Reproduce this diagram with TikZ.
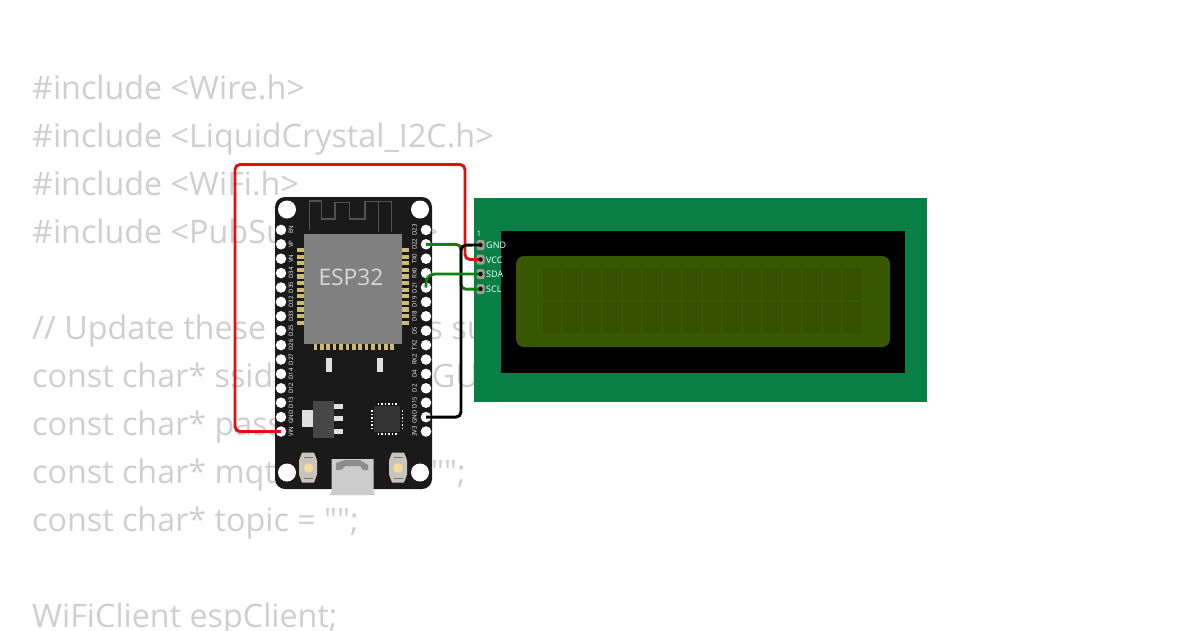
\documentclass[tikz,border=0pt]{standalone}
\usepackage{fontspec}
\setmainfont{Open Sans}
\newfontfamily\codefont{Open Sans}
\usetikzlibrary{positioning}
\definecolor{codegray}{HTML}{CFCFCF}
\definecolor{boardblack}{HTML}{1A1A1A}
\definecolor{lcdgreen}{HTML}{087F45}
\definecolor{panelgreen}{HTML}{395600}
\definecolor{cellgreen}{HTML}{355100}
\definecolor{padgold}{HTML}{CDBB72}
\definecolor{ledcream}{HTML}{F4DC9C}
\definecolor{buttongray}{HTML}{C9C5BC}
\definecolor{pingray}{HTML}{A09E8A}
\definecolor{wirered}{HTML}{E01010}
\definecolor{wiregreen}{HTML}{0F7F0F}
\tikzset{
  codeline/.style={anchor=base west,text=codegray,font=\codefont\fontsize{32.3}{32.3}\selectfont,inner sep=0pt},
  pinhole/.style={circle,fill=white,minimum size=10.5pt,inner sep=0pt},
  mounthole/.style={circle,fill=white,minimum size=18pt,inner sep=0pt},
  pinlabel/.style={text=white,font=\fontsize{6}{6}\selectfont,rotate=90,inner sep=0pt},
  lcdpin/.style={rectangle,rounded corners=1.5pt,fill=pingray,minimum width=8pt,minimum height=10pt,inner sep=0pt},
  lcdlabel/.style={anchor=west,text=white,font=\fontsize{9}{9}\selectfont,inner sep=0pt},
  wire/.style={line width=2.9pt,rounded corners=5pt},
}
\begin{document}
\begin{tikzpicture}[x=1pt,y=-1pt]
  \useasboundingbox (0,0) rectangle (1200,630);
  \fill[white] (0,0) rectangle (1200,630);
  % code behind the parts
  \node[codeline] (code1) at (32,99.7) {\#include <Wire.h>};
  \node[codeline] (code2) at (32,147.7) {\#include <LiquidCrystal\_I2C.h>};
  \node[codeline] (code3) at (32,195.7) {\#include <WiFi.h>};
  \node[codeline] (code4) at (32,243.7) {\#include <PubSubClient.h>};
  \node[codeline] (code5) at (32,339.7) {// Update these with values suitable for your network.};
  \node[codeline] (code6) at (32,387.7) {const char* ssid = "Wokwi-GUEST";};
  \node[codeline] (code7) at (32,435.7) {const char* password = "";};
  \node[codeline] (code8) at (32,483.7) {const char* mqtt\_server = "";};
  \node[codeline] (code9) at (32,531.7) {const char* topic = "";};
  \node[codeline] (code10) at (32,627.7) {WiFiClient espClient;};
  % lcd
  \fill[lcdgreen] (473.5,198) rectangle (926.5,402);
  \fill[black] (501,231) rectangle (905,373);
  \fill[panelgreen,rounded corners=8pt] (516,256) rectangle (890,347);
  \foreach \c in {0,...,15}
    \foreach \r in {0,1}
      \fill[cellgreen] (543+20*\c,268+33.5*\r) rectangle ++(17.5,31.5);
  \node[text=white,font=\fontsize{7.5}{7.5}\selectfont,inner sep=0pt] (one) at (479,234) {1};
  \foreach \n/\y/\t in {GND/245/GND,VCC/259.5/VCC,SDA/274/SDA,SCL/289/SCL} {
    \node[lcdpin] (\n) at (480.5,\y) {};
    \node[lcdlabel] (\n label) at (486,\y+.5) {\t};
  }
  % board
  \fill[boardblack,rounded corners=10pt] (275,197) rectangle (432,489);
  \draw[black!68,line width=1.2pt] (309.5,230) -- (309.5,201) -- (321.5,201) -- (321.5,219) -- (335,219) -- (335,202.5)
    -- (349.3,202.5) -- (349.3,219) -- (365,219) -- (365,201.5) -- (391.7,201.5) -- (391.7,232);
  \draw[black!68,line width=1.2pt] (378.3,201.5) -- (378.3,232);
  \node[mounthole] (hole1) at (287,209.5) {};
  \node[mounthole] (hole2) at (420,209.5) {};
  \node[mounthole] (hole3) at (287,472.5) {};
  \node[mounthole] (hole4) at (420,472.5) {};
  \foreach \i in {0,...,11} {
    \fill[padgold] (297,248+6.6*\i) rectangle ++(6.5,4.2);
    \fill[padgold] (402,248+6.6*\i) rectangle ++(6.5,4.2);
  }
  \foreach \i in {0,...,12}
    \fill[padgold] (313.5+6.4*\i,343) rectangle ++(3.6,7);
  \fill[gray] (303.5,233.5) rectangle (402,343.5);
  \node[text=black!15,font=\fontsize{22.8}{22.8}\selectfont,inner sep=0pt] (esp) at (351,277) {ESP32};
  \foreach \i/\t in {1/EN,2/VP,3/VN,4/D34,5/D35,6/D32,7/D33,8/D25,9/D26,10/D27,11/D14,12/D12,13/D13,14/GND,15/VIN} {
    \node[pinhole] (L\i) at (281,215.5+14.4*\i) {};
    \node[pinlabel] (LT\i) at (291,215.5+14.4*\i) {\t};
  }
  \foreach \i/\t in {1/D23,2/D22,3/TX0,4/RX0,5/D21,6/D19,7/D18,8/D5,9/TX2,10/RX2,11/D4,12/D2,13/D15,14/GND,15/3V3} {
    \node[pinhole] (R\i) at (426,215.5+14.4*\i) {};
    \node[pinlabel] (RT\i) at (414.5,215.5+14.4*\i) {\t};
  }
  % small parts
  \fill[black!12] (326,358) rectangle (332,372);
  \fill[black!12] (377,358) rectangle (383,372);
  \fill[black!12] (302,410) rectangle (313,427);
  \foreach \y in {404,416,429}
    \fill[black!12] (334,\y) rectangle ++(9,5);
  \fill[black!72] (313,401) rectangle (334,438);
  \fill[black!80] (374,406) rectangle (400,432);
  \foreach \i in {0,...,5} {
    \fill[white] (377.5+3.5*\i,403) rectangle ++(1.6,1.6);
    \fill[white] (377.5+3.5*\i,433) rectangle ++(1.6,1.6);
    \fill[white] (371,410+3.5*\i) rectangle ++(1.6,1.6);
    \fill[white] (401.5,410+3.5*\i) rectangle ++(1.6,1.6);
  }
  \foreach \x in {300,390} {
    \fill[buttongray] (\x+2,452.5) -- ++(12,0) -- ++(2,5) -- ++(1,3) -- ++(0,14) -- ++(-3,8) -- ++(-12,0) -- ++(-3,-8) -- ++(0,-14) -- cycle;
    \draw[black!55,line width=.7pt] (\x+4,457) -- ++(9,0) (\x+4,478) -- ++(9,0);
  }
  \fill[ledcream] (308.5,468) circle (4.8pt);
  \fill[ledcream] (398,468) circle (4.8pt);
  \fill[black!20] (331.5,459) -- (373.5,459) -- (373.5,491) -- (375,495) -- (330,495) -- (331.5,491) -- cycle;
  \fill[black!45] (336,463) -- (345,460) -- (360,460) -- (368,465) -- (368,470) -- (363,470) -- (360,466) -- (345,466) -- (341,470) -- (336,470) -- cycle;
  % wires
  \draw[wire,wirered] (L15.center) -- ++(-46,0) -- ++(0,-267) -- ++(230,0) -- ++(0,95) -- (VCC.center);
  \draw[wire,wiregreen] (R2.center) -- ++(35,0) -- ++(0,45) -- (SCL.center);
  \draw[wire,black] (R14.center) -- ++(35,0) -- ++(0,-172) -- (GND.center);
  \draw[wire,wiregreen,rounded corners=9pt] (R5.center) -- ++(0,-13.5) -- (SDA.center);
  \foreach \n in {GND,VCC,SDA,SCL}
    \fill[black] (\n) circle (2.2pt);
\end{tikzpicture}
\end{document}
